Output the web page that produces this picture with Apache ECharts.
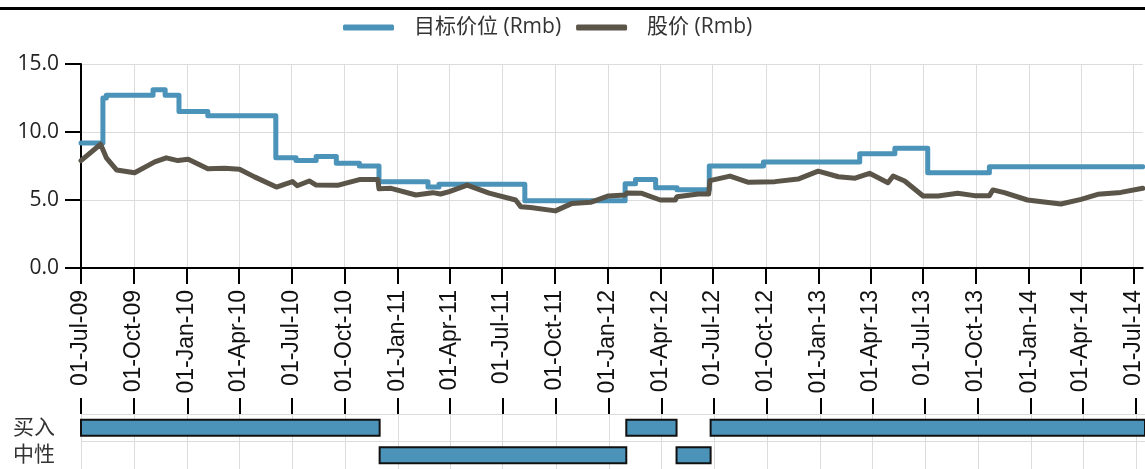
<!DOCTYPE html>
<html><head><meta charset="utf-8">
<script src="https://cdn.jsdelivr.net/npm/echarts@6/dist/echarts.min.js"></script>
<style>html,body{margin:0;padding:0;background:#fff}#c{width:1145px;height:469px}</style>
</head><body><div id="c"></div>
<script>
const seriesNames = ['目标价位 (Rmb)', '股价 (Rmb)'];

const targetDates = ['2009-07-01','2009-08-08','2009-08-14','2009-11-03','2009-11-24','2009-12-18','2010-02-06','2010-06-04','2010-07-09','2010-08-13','2010-09-17','2010-10-27','2010-11-30','2011-02-23','2011-03-14','2011-08-10','2012-01-31','2012-02-18','2012-03-24','2012-04-30','2012-06-25','2012-09-27','2013-03-13','2013-05-13','2013-07-09','2013-10-24','2014-07-17'];
const targetValues = [9.2,12.5,12.7,13.1,12.7,11.5,11.2,8.1,7.9,8.2,7.7,7.5,6.35,5.95,6.15,4.95,6.2,6.5,5.9,5.75,7.5,7.8,8.4,8.8,7.0,7.45,7.45];

const priceDates = ['2009-07-01','2009-08-04','2009-08-14','2009-09-01','2009-10-02','2009-11-06','2009-11-26','2009-12-16','2010-01-03','2010-02-06','2010-03-07','2010-04-02','2010-04-28','2010-06-05','2010-07-03','2010-07-11','2010-08-01','2010-08-13','2010-09-19','2010-10-27','2010-11-28','2010-11-30','2010-12-21','2011-02-02','2011-03-03','2011-03-17','2011-04-01','2011-05-02','2011-06-09','2011-07-25','2011-08-03','2011-08-20','2011-10-02','2011-10-31','2011-12-02','2012-01-02','2012-01-31','2012-02-03','2012-02-29','2012-04-01','2012-04-27','2012-04-30','2012-06-06','2012-06-24','2012-06-26','2012-07-31','2012-09-01','2012-10-17','2012-11-26','2012-12-31','2013-02-04','2013-03-05','2013-03-30','2013-05-01','2013-05-10','2013-05-30','2013-07-01','2013-07-27','2013-08-30','2013-09-28','2013-10-24','2013-10-30','2013-11-19','2013-12-29','2014-02-25','2014-04-01','2014-04-30','2014-06-09','2014-07-17'];
const priceValues = [7.9,9.1,8.1,7.2,7.0,7.8,8.1,7.9,8.0,7.3,7.33,7.26,6.7,5.95,6.35,6.05,6.4,6.1,6.08,6.5,6.5,5.82,5.86,5.37,5.54,5.44,5.61,6.1,5.5,5.0,4.5,4.45,4.2,4.75,4.83,5.3,5.37,5.52,5.49,5.0,5.0,5.24,5.44,5.44,6.42,6.76,6.3,6.35,6.54,7.12,6.71,6.6,6.96,6.27,6.76,6.4,5.29,5.29,5.49,5.32,5.32,5.74,5.54,5.0,4.71,5.05,5.42,5.56,5.86];

const tickDates = ['2009-07-01','2009-10-01','2010-01-01','2010-04-01','2010-07-01','2010-10-01','2011-01-01','2011-04-01','2011-07-01','2011-10-01','2012-01-01','2012-04-01','2012-07-01','2012-10-01','2013-01-01','2013-04-01','2013-07-01','2013-10-01','2014-01-01','2014-04-01','2014-07-01'];
const monthNames = ['Jan','Feb','Mar','Apr','May','Jun','Jul','Aug','Sep','Oct','Nov','Dec'];
const xMin = '2009-07-01', xMax = '2014-07-17';
const yMin = 0, yMax = 15, yStep = 5;

const ratingCategories = ['中性', '买入'];
const ratingStarts = ['2009-07-01','2010-11-30','2012-01-31','2012-04-27','2012-06-25'];
const ratingEnds   = ['2010-11-30','2012-01-31','2012-04-27','2012-06-25','2014-07-17'];
const ratingLevels = ['买入','中性','买入','中性','买入'];

const BLUE = '#4b93b8', BROWN = '#5b5549';
const FONT = '"Open Sans", "Noto Sans CJK SC", sans-serif';

function ts(s) { const p = s.split('-').map(Number); return new Date(p[0], p[1] - 1, p[2]).getTime(); }
function fmtDate(v) {
  const d = new Date(v);
  const dd = String(d.getDate()).padStart(2, '0');
  const yy = String(d.getFullYear() % 100).padStart(2, '0');
  return dd + '-' + monthNames[d.getMonth()] + '-' + yy;
}
const tickTs = tickDates.map(ts);

const chart = echarts.init(document.getElementById('c'), null, {renderer: 'canvas'});
const gridLine = {show: true, lineStyle: {color: '#dcdcdc', width: 1}};

chart.setOption({
  animation: false,
  backgroundColor: '#fff',
  graphic: [{type: 'line', shape: {x1: 0, y1: 8.5, x2: 1145, y2: 8.5}, style: {stroke: '#000', lineWidth: 3}}],
  legend: {
    left: 338, top: 12, itemWidth: 51, itemHeight: 6, itemGap: 15, icon: 'roundRect',
    data: seriesNames,
    textStyle: {fontSize: 21, color: '#333', fontFamily: FONT, padding: [0, 14, 0, 15]}
  },
  grid: [
    {left: 81, right: 0, top: 64, height: 204},
    {left: 81, right: 0, top: 414, height: 56}
  ],
  xAxis: [
    {
      type: 'value', gridIndex: 0, min: ts(xMin), max: ts(xMax), scale: true,
      axisLine: {lineStyle: {color: '#000', width: 2}},
      axisTick: {show: true, length: 16, lineStyle: {color: '#000', width: 2}, customValues: tickTs},
      axisLabel: {customValues: tickTs, rotate: 90, margin: 22, fontSize: 23, color: '#111',
        fontFamily: '"Liberation Sans", Arial, sans-serif', formatter: fmtDate, hideOverlap: false},
      splitLine: gridLine
    },
    {
      type: 'value', gridIndex: 1, position: 'top', min: ts(xMin), max: ts(xMax), scale: true,
      axisLine: {lineStyle: {color: '#000', width: 2}},
      axisTick: {show: true, length: 16, lineStyle: {color: '#000', width: 2}, customValues: tickTs},
      axisLabel: {show: false, customValues: tickTs},
      splitLine: gridLine
    }
  ],
  yAxis: [
    {
      type: 'value', gridIndex: 0, min: yMin, max: yMax, interval: yStep,
      axisLine: {show: true, lineStyle: {color: '#000', width: 2}},
      axisTick: {show: true, length: 16, lineStyle: {color: '#000', width: 2}},
      axisLabel: {margin: 22, fontSize: 21, color: '#222', fontFamily: FONT, formatter: v => v.toFixed(1)},
      splitLine: gridLine
    },
    {
      type: 'category', gridIndex: 1, data: ratingCategories,
      axisLine: {show: false}, axisTick: {show: false},
      axisLabel: {margin: 26, fontSize: 21, color: '#333', fontFamily: FONT},
      splitLine: {show: true, lineStyle: {color: '#dcdcdc', width: 1}}
    }
  ],
  series: [
    {
      name: seriesNames[0], type: 'line', step: 'end', xAxisIndex: 0, yAxisIndex: 0,
      showSymbol: false, symbol: 'none', color: BLUE,
      lineStyle: {width: 5, color: BLUE, join: 'round', cap: 'round'},
      data: targetDates.map((d, i) => [ts(d), targetValues[i]])
    },
    {
      name: seriesNames[1], type: 'line', xAxisIndex: 0, yAxisIndex: 0,
      showSymbol: false, symbol: 'none', color: BROWN,
      lineStyle: {width: 5, color: BROWN, join: 'round', cap: 'round'},
      data: priceDates.map((d, i) => [ts(d), priceValues[i]])
    },
    {
      type: 'custom', xAxisIndex: 1, yAxisIndex: 1,
      dimensions: [{name: 's', type: 'number'}, {name: 'e', type: 'number'}, {name: 'c', type: 'number'}],
      encode: {x: [0, 1], y: 2},
      renderItem: function (params, api) {
        const cat = api.value(2);
        const s = api.coord([api.value(0), cat]);
        const e = api.coord([api.value(1), cat]);
        const h = api.size([0, 1])[1] * 0.58;
        return {type: 'rect', shape: {x: s[0], y: s[1] - h / 2, width: e[0] - s[0], height: h},
          style: {fill: BLUE, stroke: '#111', lineWidth: 2}};
      },
      data: ratingStarts.map((s, i) => [ts(s), ts(ratingEnds[i]), ratingCategories.indexOf(ratingLevels[i])])
    }
  ]
});
</script>
</body></html>
